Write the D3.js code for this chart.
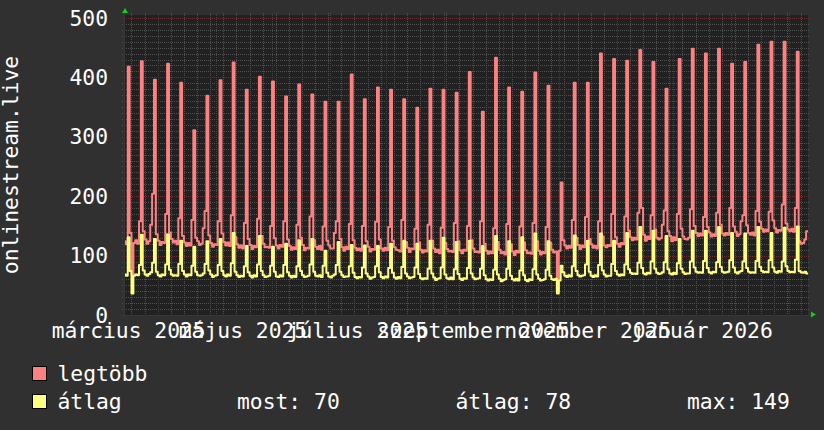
<!DOCTYPE html>
<html><head><meta charset="utf-8">
<script src="https://cdn.jsdelivr.net/npm/d3@7"></script>
<style>
html,body{margin:0;padding:0;background:#303030;}
svg{display:block;}
text{font-family:"DejaVu Sans Mono",monospace;font-size:21.33px;fill:#ffffff;}
</style></head><body>
<svg id="c" width="824" height="430"></svg>
<script>
// ---- data ----
const startDate = "2025-02-11";
const endDate = "2026-02-11";
const yTicks = [0, 100, 200, 300, 400, 500];
const xLabels = ["március 2025", "május 2025", "július 2025", "szeptember 2025", "november 2025", "január 2026"];
const xLabelDates = ["2025-03-01", "2025-05-01", "2025-07-01", "2025-09-01", "2025-11-01", "2026-01-01"];
const yTitle = "onlinestream.live";
const seriesNames = ["legtöbb", "átlag"];
const statLabels = ["most: 70", "átlag: 78", "max: 149"];

// daily maximum (legtöbb)
const legtobb = [
124,119,
418,138,68,121,126,120,158,
427,141,127,120,124,152,204,
396,136,125,118,123,121,170,
423,139,128,122,125,119,163,
391,133,122,116,121,117,160,
311,130,124,118,120,146,175,
369,134,121,115,119,118,158,
395,137,123,117,122,116,168,
425,131,119,113,117,112,155,
379,128,118,111,116,114,162,
401,133,120,114,115,113,150,
393,129,117,112,118,115,158,
368,127,116,110,114,111,152,
388,130,118,109,113,112,166,
371,126,115,111,116,110,149,
359,125,117,112,112,138,158,
359,128,114,108,115,111,153,
405,126,113,109,112,108,150,
363,124,115,107,111,110,157,
383,127,112,108,113,109,148,
379,125,114,110,109,107,160,
363,123,113,106,112,111,145,
349,122,110,105,109,107,152,
381,125,112,106,110,104,147,
379,121,111,107,108,106,155,
374,124,109,104,110,108,150,
409,126,112,106,107,105,158,
342,120,108,103,107,104,146,
433,123,110,104,106,102,153,
383,119,107,101,108,105,149,
376,122,109,104,105,103,155,
408,124,108,102,106,104,148,
386,121,110,105,107,40,108,
223,126,117,112,116,113,160,
391,130,118,111,117,114,165,
391,128,119,113,116,112,158,
440,132,117,114,118,116,170,
431,131,120,115,121,119,166,
428,142,131,126,130,127,172,
446,180,135,125,132,128,168,
426,144,130,127,129,152,176,
381,141,133,124,131,126,170,
431,145,132,128,127,130,178,
448,150,138,133,137,134,165,
440,148,139,132,136,133,172,
448,152,137,134,138,135,180,
423,149,140,133,136,158,168,
426,151,138,135,139,134,175,
455,157,145,140,144,141,174,
460,159,146,139,143,142,186,
460,154,144,141,145,140,180,
443,124,120,121,127,141
];

// daily average (átlag)
const atlag = [
68,66,
131,74,36,66,68,67,84,
135,75,68,66,69,72,88,
128,73,67,65,68,67,85,
136,76,68,66,67,66,86,
125,74,68,65,68,67,83,
115,73,67,66,67,70,86,
124,75,68,64,66,67,84,
128,74,67,65,68,66,87,
138,73,67,64,66,65,82,
116,72,66,63,67,65,85,
133,74,67,64,65,66,83,
115,73,65,64,67,65,84,
120,72,66,63,66,64,82,
126,74,67,64,65,66,85,
128,73,66,65,67,64,83,
108,71,65,63,66,68,84,
123,73,67,64,65,65,82,
118,71,64,62,64,63,80,
117,70,65,61,63,64,82,
116,72,64,62,65,63,79,
120,71,63,61,64,62,81,
125,70,65,62,63,64,80,
120,69,62,60,62,61,78,
125,70,63,59,61,62,80,
130,68,62,60,63,60,77,
123,69,61,59,62,61,79,
125,70,63,60,61,62,78,
116,67,60,58,60,59,76,
133,68,61,57,59,60,78,
124,66,60,58,61,58,75,
131,67,59,57,60,59,77,
137,68,61,58,59,60,76,
124,66,60,59,61,36,58,
83,72,66,64,67,65,82,
134,74,67,65,66,67,85,
125,73,66,64,67,65,84,
137,75,68,65,66,66,86,
125,74,68,66,68,67,85,
138,77,71,69,70,69,88,
148,79,70,68,71,70,90,
142,78,71,69,70,72,89,
133,77,70,68,71,69,87,
128,78,72,69,70,70,90,
142,80,73,71,72,71,91,
142,79,72,70,73,72,89,
148,81,73,71,72,73,92,
138,80,72,70,73,74,90,
137,79,73,71,72,71,91,
148,81,74,72,73,72,92,
138,80,73,71,74,73,90,
147,82,74,72,73,72,93,
149,74,72,71,73,70
];

// ---- layout / style ----
const W = 824, H = 430;
const X0 = 124, X1 = 808, Y0 = 315, Y1 = 15;
const colMax = "#ff8080", colAvg = "#ffff80";
const colMinor = "#505050", colMajor = "#6a2f2f";

const parse = d3.utcParse("%Y-%m-%d");
const t0 = parse(startDate), t1 = parse(endDate);
const x = d3.scaleUtc().domain([t0, t1]).range([X0, X1]);
const y = d3.scaleLinear().domain([0, 505]).range([Y0, Y1]);
const days = d3.utcDay.range(t0, t1);

const svg = d3.select("#c");
svg.append("rect").attr("width", W).attr("height", H).attr("fill", "#303030");
svg.append("rect").attr("x", X0).attr("y", Y1).attr("width", X1 - X0).attr("height", Y0 - Y1).attr("fill", "#212121");

const snap = v => Math.round(v) + 0.5;
const grid = svg.append("g").attr("fill", "none").attr("stroke-width", 1).attr("stroke-dasharray", "1,1");

// minor horizontal every 10
const minorY = d3.range(10, 501, 10).filter(v => v % 100 !== 0);
grid.selectAll(".mh").data(minorY).join("line")
  .attr("x1", X0 - 2).attr("x2", X1 + 2)
  .attr("y1", d => snap(y(d))).attr("y2", d => snap(y(d)))
  .attr("stroke", colMinor);
// minor vertical weekly
const weeks = d3.utcSaturday.range(t0, t1).filter(d => d.getUTCDate() !== 1);
grid.selectAll(".mv").data(weeks).join("line")
  .attr("y1", Y1 - 2).attr("y2", Y0 + 2)
  .attr("x1", d => snap(x(d))).attr("x2", d => snap(x(d)))
  .attr("stroke", colMinor);
// major horizontal
grid.selectAll(".Mh").data(yTicks.filter(v => v > 0)).join("line")
  .attr("x1", X0 - 2).attr("x2", X1 + 2)
  .attr("y1", d => snap(y(d))).attr("y2", d => snap(y(d)))
  .attr("stroke", colMajor);
// major vertical monthly
const months = d3.utcMonth.range(t0, t1);
grid.selectAll(".Mv").data(months).join("line")
  .attr("y1", Y1 - 2).attr("y2", Y0 + 2)
  .attr("x1", d => snap(x(d))).attr("x2", d => snap(x(d)))
  .attr("stroke", colMajor);

// lines
const line = d3.line().curve(d3.curveStepAfter).x(d => x(d[0])).y(d => y(d[1]));
function pts(arr) {
  const p = days.map((d, i) => [d, arr[i]]);
  p.push([t1, arr[arr.length - 1]]);
  return p;
}
svg.append("path").attr("d", line(pts(legtobb))).attr("fill", "none")
  .attr("stroke", colMax).attr("stroke-width", 2).attr("stroke-linejoin", "round");
svg.append("path").attr("d", line(pts(atlag))).attr("fill", "none")
  .attr("stroke", colAvg).attr("stroke-width", 2).attr("stroke-linejoin", "round");

// axes
svg.append("line").attr("x1", X0 - 4).attr("x2", X1 + 4).attr("y1", Y0 + 0.5).attr("y2", Y0 + 0.5).attr("stroke", "#383838");
svg.append("line").attr("x1", X0 + 0.5).attr("x2", X0 + 0.5).attr("y1", Y0 + 4).attr("y2", Y1 - 4).attr("stroke", "#383838");
svg.append("polygon").attr("points", [[X0 - 2, Y1 - 2], [X0 + 4, Y1 - 2], [X0 + 1, Y1 - 7]].join(" ")).attr("fill", "#10d010");
svg.append("polygon").attr("points", [[X1 + 3, Y0 - 3.5], [X1 + 3, Y0 + 2.5], [X1 + 8, Y0 - 0.5]].join(" ")).attr("fill", "#10d010");

// y tick labels
svg.selectAll(".yl").data(yTicks).join("text")
  .attr("x", 108).attr("y", d => y(d) + 7.6).attr("text-anchor", "end").text(d => d);

// x labels (rrdtool places them half a month before the month line)
const halfMonth = 15.5 * 864e5;
svg.selectAll(".xl").data(xLabels).join("text")
  .attr("x", (d, i) => x(new Date(+parse(xLabelDates[i]) - halfMonth)))
  .attr("y", 338).attr("text-anchor", "middle").text(d => d);

// y title
svg.append("text").attr("transform", `translate(18,${(Y0 + Y1) / 2}) rotate(-90)`)
  .attr("text-anchor", "middle").text(yTitle);

// legend
const legCols = [colMax, colAvg];
const legY = [381, 409];
seriesNames.forEach((n, i) => {
  svg.append("rect").attr("x", 32.5).attr("y", legY[i] - 14.5).attr("width", 14).attr("height", 14)
    .attr("fill", legCols[i]).attr("stroke", "#000").attr("stroke-width", 1);
  svg.append("text").attr("x", 57.5).attr("y", legY[i]).text(n);
});
const statX = [237, 455.5, 687];
statLabels.forEach((s, i) => {
  svg.append("text").attr("x", statX[i]).attr("y", legY[1]).text(s);
});
</script>
</body></html>
